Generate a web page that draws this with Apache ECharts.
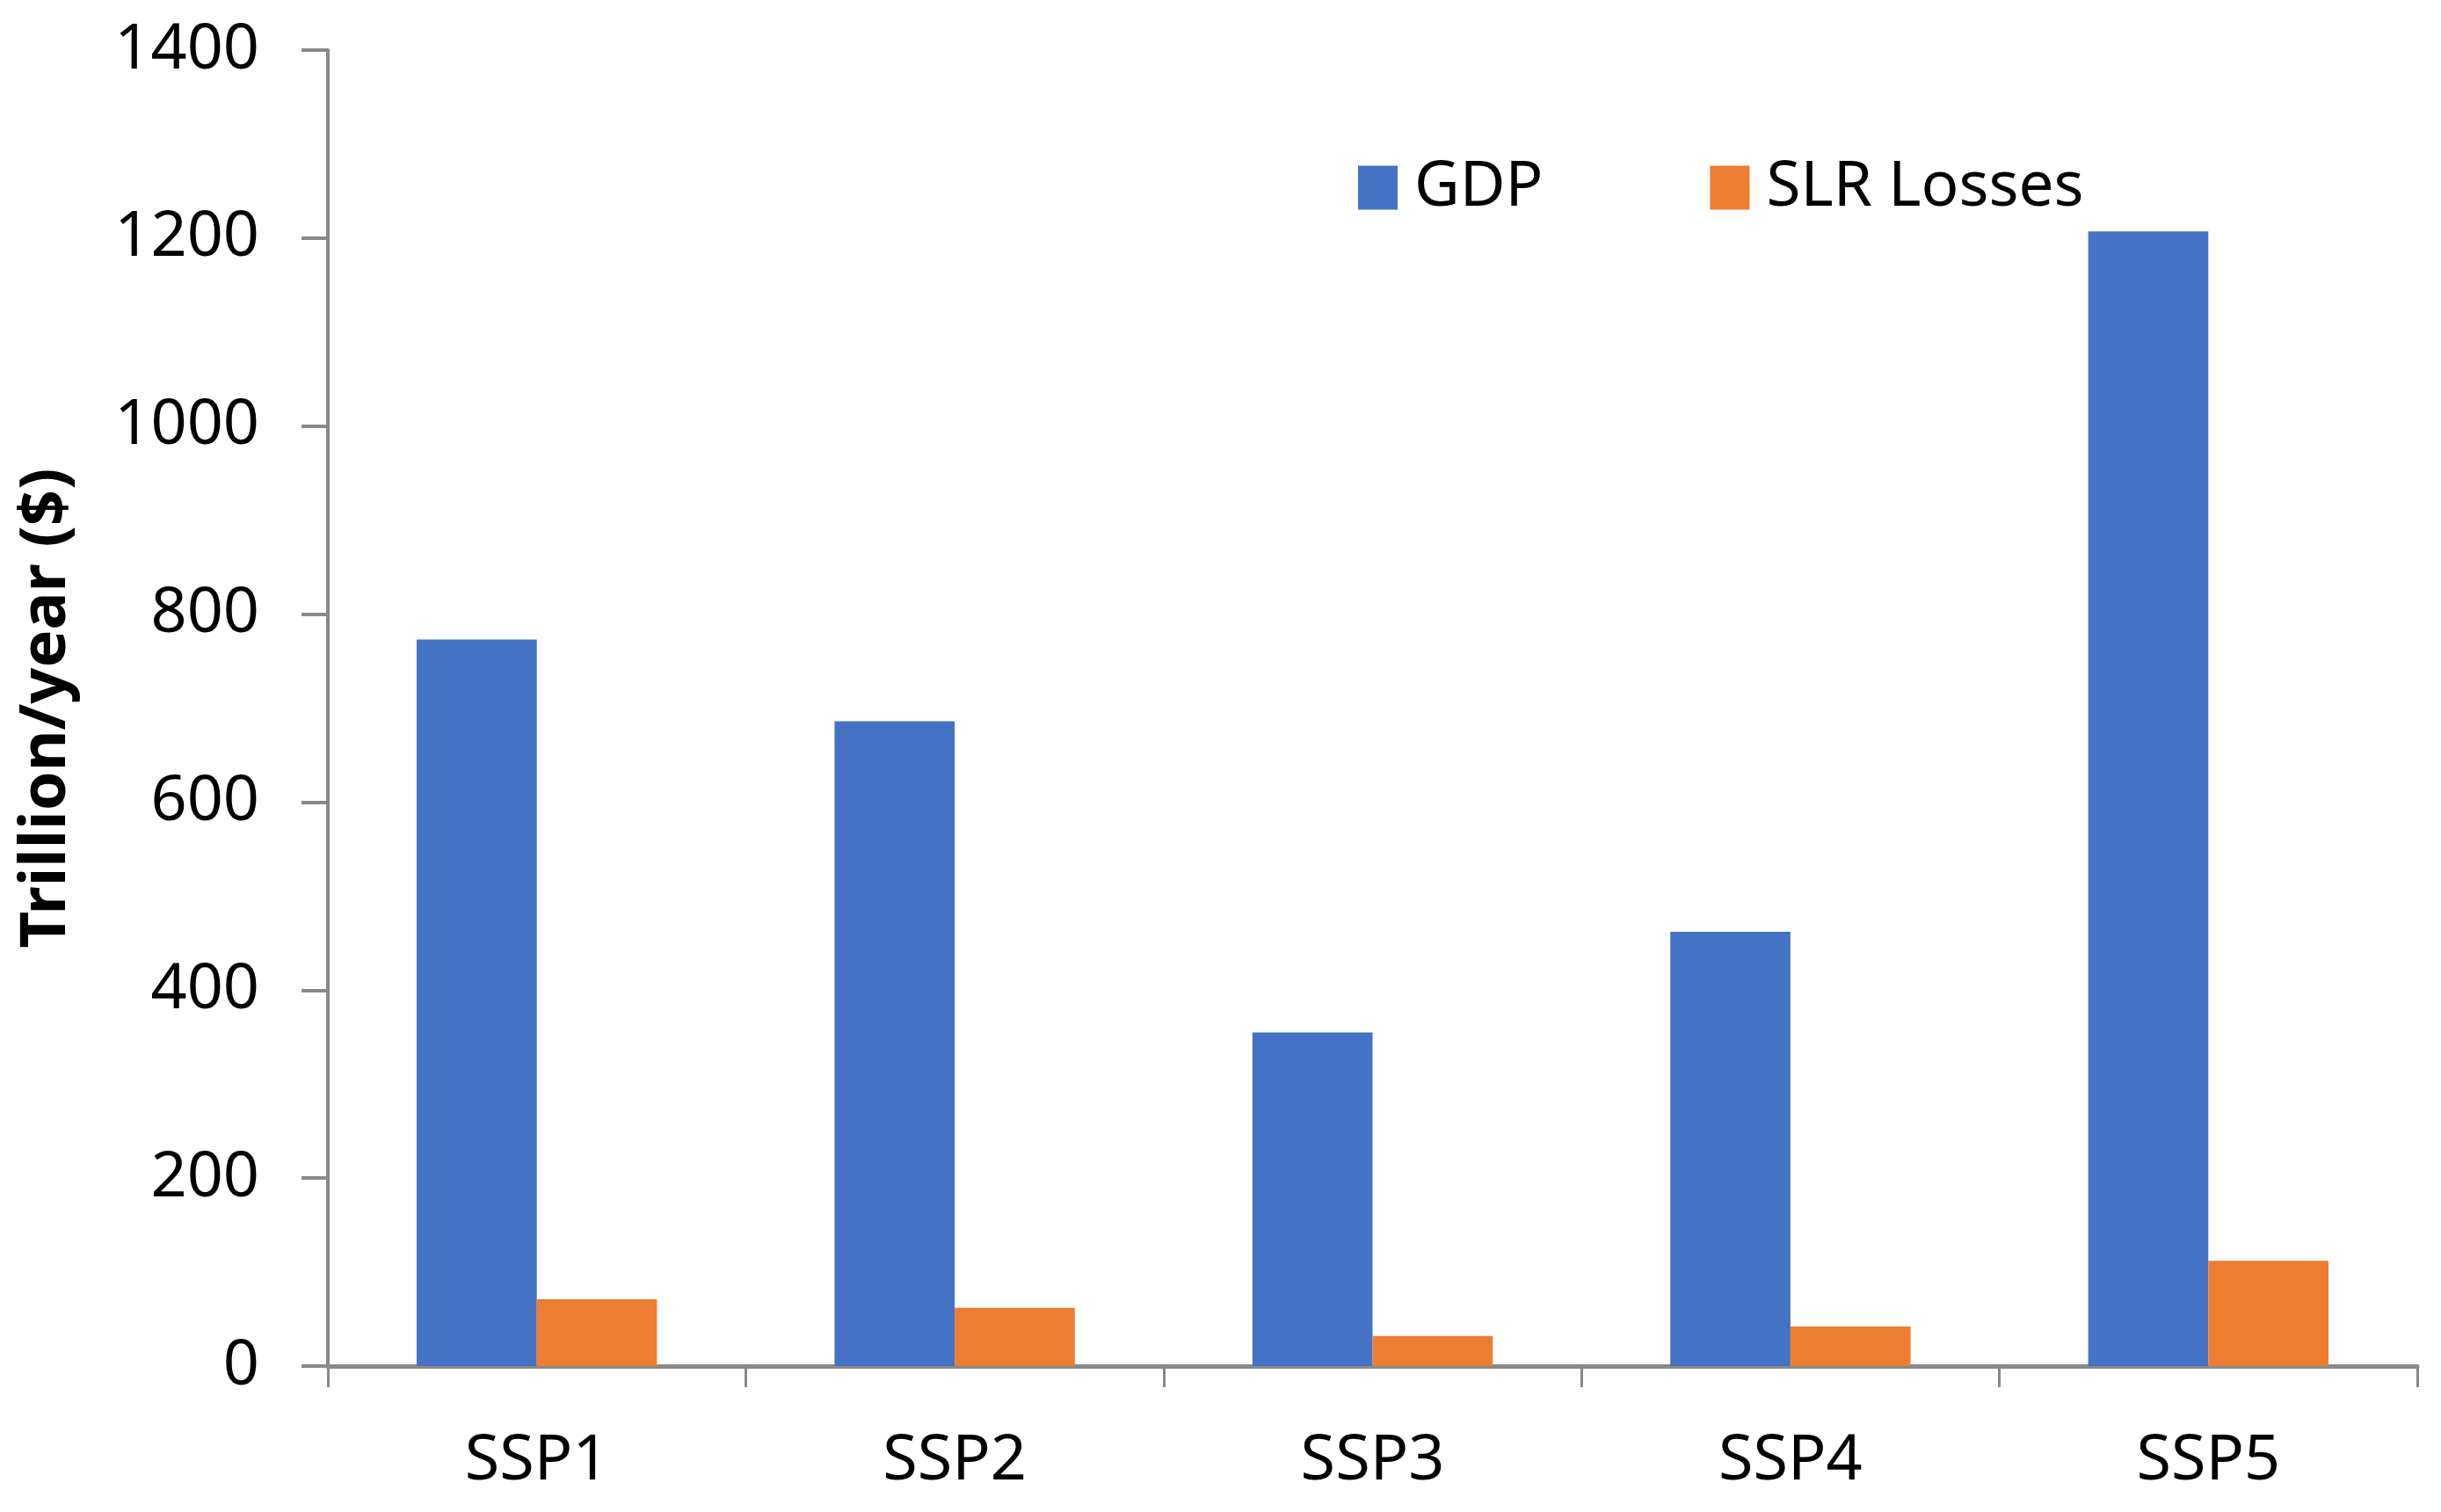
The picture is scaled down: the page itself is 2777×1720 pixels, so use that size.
<!DOCTYPE html>
<html>
<head>
<meta charset="utf-8">
<script src="https://cdn.jsdelivr.net/npm/echarts@6/dist/echarts.min.js"></script>
<style>html,body{margin:0;padding:0;background:#fff}#c{width:2777px;height:1720px}</style>
</head>
<body>
<div id="c"></div>
<script>
const categories = ['SSP1', 'SSP2', 'SSP3', 'SSP4', 'SSP5'];
const gdp = [773, 686, 355, 462, 1207];
const slrLosses = [71, 62, 32, 42, 112];
const yTicks = { min: 0, max: 1400, interval: 200 };

const chart = echarts.init(document.getElementById('c'));
const font = 'Noto Sans';
chart.setOption({
  animation: false,
  backgroundColor: '#fff',
  grid: { left: 373, right: 27, top: 57, bottom: 166, containLabel: false, outerBoundsMode: 'none' },
  legend: {
    left: 1540, top: 173,
    itemWidth: 45, itemHeight: 50, itemGap: 190,
    icon: 'rect',
    textStyle: { fontFamily: font, fontSize: 71, color: '#000', padding: [0, 0, 0, 14] },
    data: ['GDP', 'SLR Losses']
  },
  xAxis: {
    type: 'category',
    data: categories,
    axisLine: { lineStyle: { color: '#898989', width: 5 } },
    axisTick: { show: true, length: 24, lineStyle: { color: '#898989', width: 3 } },
    axisLabel: { fontFamily: font, fontSize: 72, color: '#000', margin: 72 }
  },
  yAxis: {
    type: 'value',
    min: yTicks.min, max: yTicks.max, interval: yTicks.interval,
    name: 'Trillion/year ($)',
    nameLocation: 'middle',
    nameGap: 284,
    nameRotate: 90,
    nameTextStyle: { fontFamily: font, fontSize: 72, fontWeight: 'bold', color: '#000' },
    axisLine: { show: true, lineStyle: { color: '#898989', width: 4 } },
    axisTick: { show: true, length: 30, lineStyle: { color: '#898989', width: 4 } },
    splitLine: { show: false },
    axisLabel: { fontFamily: font, fontSize: 72, color: '#000', margin: 78, formatter: v => String(v) }
  },
  series: [
    { name: 'GDP', type: 'bar', data: gdp, itemStyle: { color: '#4472C4' }, barGap: '0%', barCategoryGap: '42.5%' },
    { name: 'SLR Losses', type: 'bar', data: slrLosses, itemStyle: { color: '#ED7D31' }, barGap: '0%', barCategoryGap: '42.5%' }
  ]
});
</script>
</body>
</html>
